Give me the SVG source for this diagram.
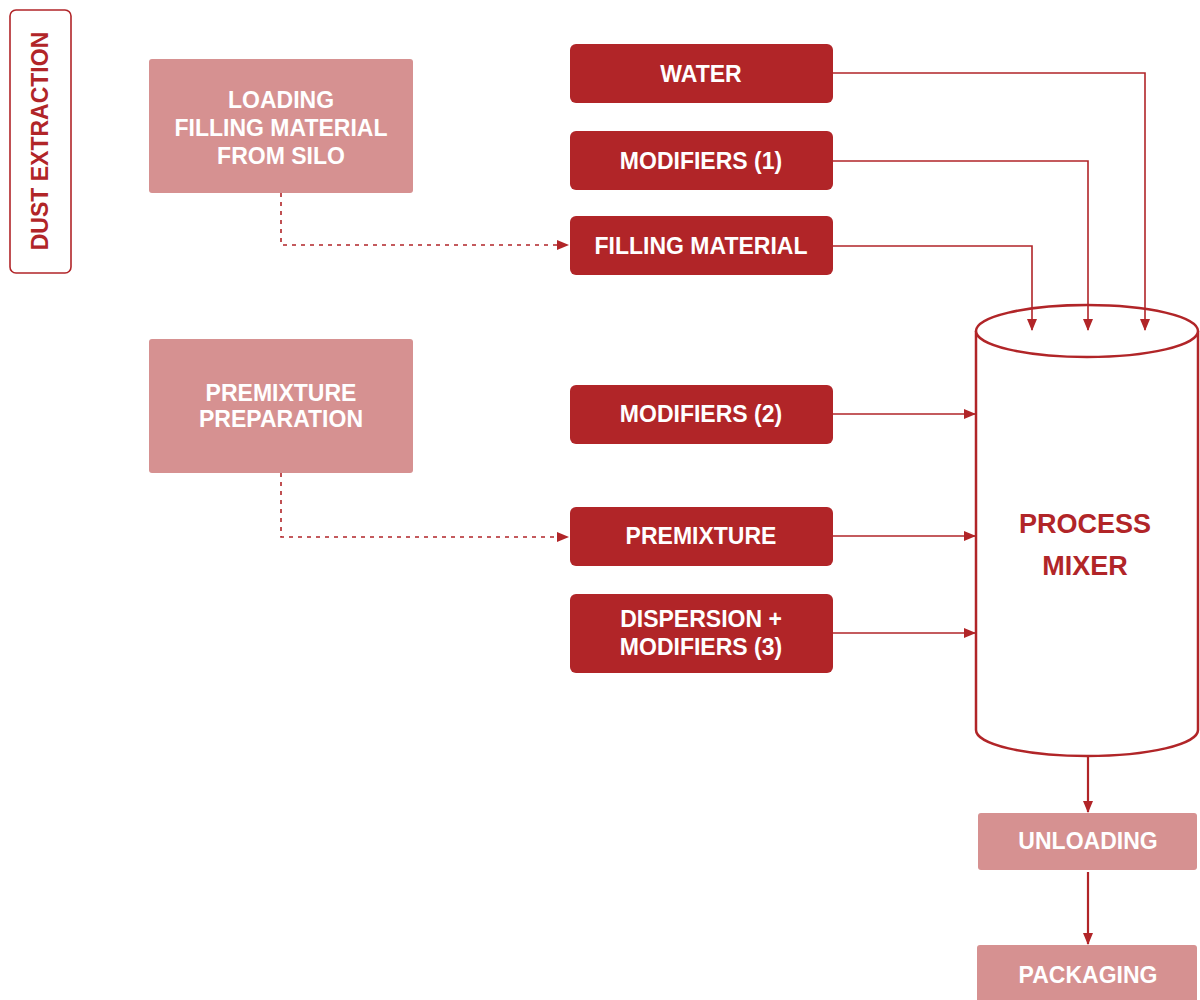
<svg xmlns="http://www.w3.org/2000/svg" width="1200" height="1000" viewBox="0 0 1200 1000">
<style>
text{font-family:"Liberation Sans",Arial,sans-serif;font-weight:bold;text-anchor:middle}
.red{fill:#b12528}
.pink{fill:#d69191}
.wt{fill:#ffffff;font-size:23px}
.rt{fill:#b12528}
.ln{fill:none;stroke:#b12528;stroke-width:1.6}
.dash{fill:none;stroke:#b12528;stroke-width:1.6;stroke-dasharray:4 5}
.ln2{fill:none;stroke:#b12528;stroke-width:2.2}
</style>
<defs>
<marker id="ah" markerWidth="12" markerHeight="10" refX="11" refY="5" orient="auto" markerUnits="userSpaceOnUse">
<path d="M0,0 L12,5 L0,10 Z" fill="#b12528"/>
</marker>
</defs>
<rect width="1200" height="1000" fill="#ffffff"/>

<g id="dust-extraction">
<rect x="10" y="10" width="61" height="263" rx="6" fill="#ffffff" stroke="#b12528" stroke-width="1.6"/>
<text class="rt" font-size="23" transform="translate(48,141) rotate(-90)">DUST EXTRACTION</text>
</g>

<g id="loading">
<rect class="pink" x="149" y="59" width="264" height="134" rx="3"/>
<text class="wt" x="281" y="108">LOADING</text>
<text class="wt" x="281" y="136">FILLING MATERIAL</text>
<text class="wt" x="281" y="164">FROM SILO</text>
</g>

<g id="premixture-preparation">
<rect class="pink" x="149" y="339" width="264" height="134" rx="3"/>
<text class="wt" x="281" y="401">PREMIXTURE</text>
<text class="wt" x="281" y="427">PREPARATION</text>
</g>

<g id="water">
<rect class="red" x="570" y="44" width="263" height="59" rx="6"/>
<text class="wt" x="701" y="82">WATER</text>
</g>
<g id="modifiers1">
<rect class="red" x="570" y="131" width="263" height="59" rx="6"/>
<text class="wt" x="701" y="169">MODIFIERS (1)</text>
</g>
<g id="filling-material">
<rect class="red" x="570" y="216" width="263" height="59" rx="6"/>
<text class="wt" x="701" y="254">FILLING MATERIAL</text>
</g>
<g id="modifiers2">
<rect class="red" x="570" y="385" width="263" height="59" rx="6"/>
<text class="wt" x="701" y="422">MODIFIERS (2)</text>
</g>
<g id="premixture">
<rect class="red" x="570" y="507" width="263" height="59" rx="6"/>
<text class="wt" x="701" y="544">PREMIXTURE</text>
</g>
<g id="dispersion">
<rect class="red" x="570" y="594" width="263" height="79" rx="6"/>
<text class="wt" x="701" y="627">DISPERSION +</text>
<text class="wt" x="701" y="655">MODIFIERS (3)</text>
</g>

<g id="process-mixer">
<path d="M976,331 L976,730 A111,26 0 0 0 1198,730 L1198,331" fill="#ffffff" stroke="#b12528" stroke-width="2.5"/>
<ellipse cx="1087" cy="331" rx="111" ry="26" fill="#ffffff" stroke="#b12528" stroke-width="2.5"/>
<text class="rt" font-size="27" x="1085" y="533">PROCESS</text>
<text class="rt" font-size="27" x="1085" y="575">MIXER</text>
</g>

<g id="unloading">
<rect class="pink" x="978" y="813" width="219" height="57" rx="3"/>
<text class="wt" x="1088" y="849">UNLOADING</text>
</g>
<g id="packaging">
<rect class="pink" x="977" y="945" width="220" height="60" rx="3"/>
<text class="wt" x="1088" y="983">PACKAGING</text>
</g>

<g id="connectors">
<path class="ln" d="M833,73 H1145 V330" marker-end="url(#ah)"/>
<path class="ln" d="M833,161 H1088 V330" marker-end="url(#ah)"/>
<path class="ln" d="M833,246 H1032 V330" marker-end="url(#ah)"/>
<path class="ln" d="M833,414 H975" marker-end="url(#ah)"/>
<path class="ln" d="M833,536 H975" marker-end="url(#ah)"/>
<path class="ln" d="M833,633 H975" marker-end="url(#ah)"/>
<path class="dash" d="M281,193 V245 H568" marker-end="url(#ah)"/>
<path class="dash" d="M281,473 V537 H568" marker-end="url(#ah)"/>
<path class="ln2" d="M1088,756 V812" marker-end="url(#ah)"/>
<path class="ln2" d="M1088,872 V944" marker-end="url(#ah)"/>
</g>
</svg>
